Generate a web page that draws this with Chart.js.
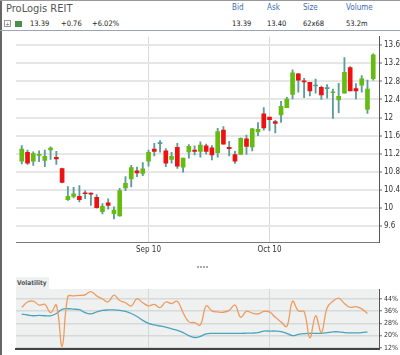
<!DOCTYPE html>
<html><head><meta charset="utf-8">
<script src="https://cdn.jsdelivr.net/npm/chart.js@4.4.1/dist/chart.umd.min.js"></script>
<style>
html,body{margin:0;padding:0;background:#fff;}
body{width:400px;height:355px;position:relative;overflow:hidden;font-family:"DejaVu Sans Condensed","DejaVu Sans",sans-serif;}
.abs{position:absolute;white-space:nowrap;line-height:1;}
#frameL{left:0;top:0;width:2px;height:355px;background:#666;}
#frameT{left:0;top:0;width:400px;height:1px;background:#999;}
#sep{left:0;top:30px;width:400px;height:1px;background:#9aa4b4;}
#title{left:6px;top:3px;font-size:11px;color:#555;}
.hl{font-size:8px;color:#3d6db5;top:4px;}
.hv{font-size:7.5px;color:#222;top:19.5px;}
#pbox{left:4px;top:20px;width:5px;height:5px;border:1px solid #999;font-size:6px;color:#666;text-align:center;line-height:5px;}
#gsq{left:15px;top:20.5px;width:7px;height:6px;background:#4a8f4a;}
.dot{width:2px;height:2px;background:#aaa;top:266px;}
#vlab{left:16px;top:277px;width:33px;height:12px;background:#eff1f1;font-size:6.5px;font-weight:bold;color:#555;line-height:12px;text-indent:1px;}
canvas{position:absolute;left:0;}
</style></head>
<body>
<div class="abs" id="frameL"></div>
<div class="abs" id="frameT"></div>
<div class="abs" id="sep"></div>
<div class="abs" id="title">ProLogis REIT</div>
<div class="abs hl" style="left:232px">Bid</div>
<div class="abs hl" style="left:267px">Ask</div>
<div class="abs hl" style="left:303px">Size</div>
<div class="abs hl" style="left:346px">Volume</div>
<div class="abs" id="pbox">+</div>
<div class="abs" id="gsq"></div>
<div class="abs hv" style="left:30px">13.39</div>
<div class="abs hv" style="left:61px">+0.76</div>
<div class="abs hv" style="left:92px">+6.02%</div>
<div class="abs hv" style="left:232px">13.39</div>
<div class="abs hv" style="left:267px">13.40</div>
<div class="abs hv" style="left:303px">62x68</div>
<div class="abs hv" style="left:346px">53.2m</div>
<div class="abs dot" style="left:197px"></div>
<div class="abs dot" style="left:200px"></div>
<div class="abs dot" style="left:203px"></div>
<div class="abs dot" style="left:206px"></div>
<div class="abs" id="vlab">Volatility</div>
<canvas id="c1" width="400" height="230" style="top:30px"></canvas>
<canvas id="c2" width="400" height="80" style="top:275px"></canvas>
<script>
// ---- data ----
const xTickPos = [22, 43];
const xTickLabels = ['Sep 10', 'Oct 10'];
const yTicks = [9.6, 10, 10.4, 10.8, 11.2, 11.6, 12, 12.4, 12.8, 13.2, 13.6];
const volTicks = [12, 20, 28, 36, 44];

const opens  = [11.03,11.23,11.03,11.16,11.05,11.28,11.12,10.87,10.18,10.25,
                10.25,10.33,10.32,10.23, 9.91,10.11, 9.87, 9.82,10.44,10.64,
                10.82,10.76,11.03,11.30,11.42,11.26,11.07,11.34,10.90,11.24,
                11.28,11.25,11.37,11.33,11.22,11.72,11.34,11.18,11.18,11.53,
                11.35,11.68,12.08,12.01,11.91,12.06,12.22,12.51,12.97,12.80,
                12.78,12.70,12.67,12.64,12.55,12.39,12.54,13.11,12.64,12.72,
                12.18,12.86];
const highs  = [11.38,11.28,11.24,11.26,11.28,11.35,11.25,10.88,10.47,10.45,
                10.49,10.38,10.33,10.29,10.09,10.20,10.02,10.43,10.69,10.94,
                10.90,11.00,11.28,11.43,11.49,11.31,11.23,11.43,11.10,11.40,
                11.37,11.46,11.41,11.38,11.76,11.80,11.47,11.25,11.55,11.61,
                11.76,11.89,12.22,12.01,11.94,12.36,12.45,13.06,12.98,12.87,
                12.78,12.85,12.70,12.73,12.63,12.76,13.33,13.13,12.75,12.93,
                12.83,13.41];
const lows   = [10.97,10.96,10.94,11.02,10.91,11.07,10.96,10.55,10.16,10.22,
                10.13,10.20,10.05, 9.99, 9.86, 9.97, 9.75, 9.81,10.38,10.46,
                10.69,10.71,10.92,11.15,11.23,10.91,10.99,10.87,10.79,11.10,
                11.17,11.12,11.19,11.06,11.12,11.41,11.15,10.98,11.18,11.18,
                11.26,11.60,11.72,11.71,11.66,11.89,12.22,12.41,12.56,12.44,
                12.48,12.54,12.40,12.43,11.98,12.11,12.54,12.59,12.41,12.56,
                12.09,12.83];
const closes = [11.30,10.99,11.20,11.17,11.14,11.32,11.08,10.56,10.25,10.31,
                10.18,10.31,10.30,10.00,10.03,10.05, 9.95,10.38,10.54,10.89,
                10.77,10.86,11.23,11.25,11.42,10.99,11.14,10.92,11.10,11.36,
                11.25,11.39,11.25,11.17,11.69,11.41,11.31,11.03,11.54,11.36,
                11.75,11.74,11.77,11.95,11.87,12.25,12.41,12.99,12.83,12.79,
                12.59,12.70,12.50,12.64,12.56,12.47,13.00,12.59,12.59,12.86,
                12.63,13.39];

const volOrange = [38.5,42,42.5,40,40.5,35,40,13,45.6,46,
                   46.3,46.7,48.8,46,44,42,46.5,43,41.5,39.3,
                   44.2,41.5,39.5,40.4,38.3,42,41,42.5,35,29,
                   28.5,27,39.5,36.2,35.5,35.3,36.5,40,32,36,
                   34.7,34.2,35.8,35.5,32,29,26,42.5,36.2,35.8,
                   18.5,33,22,38.3,42.5,44.5,41,38.5,39,37.5,
                   34.5,null];
const volTeal   = [34.1,33.5,33,33.2,33,33,34.5,37.2,37.6,37.3,
                   37,35,34.2,35.5,36.5,36.8,36.8,36.5,35.8,34.5,
                   32.5,30,28,27,26.3,25.5,24.5,23.5,22,20,
                   18.8,19.5,21.2,21.5,21.5,21.5,21.5,21.5,21.5,21.6,
                   21.7,22,23,23,23,22.7,21.5,20,20.8,21.3,
                   21.5,21.5,21.5,22,22.5,22.5,22,21.8,21.8,22,
                   22.5,null];

// ---- build ----
const FONT = '"DejaVu Sans Condensed","DejaVu Sans",sans-serif';
const UP = '#66bb11', DOWN = '#ee1111', FLAT = '#4f9a9a', WICK = '#5e9c9c';
const bodyData = opens.map((o, i) => ({x: i, y: [o, closes[i]]}));
const wickData = highs.map((h, i) => ({x: i, y: [lows[i], h]}));
const bodyColors = opens.map((o, i) => closes[i] > o ? UP : (closes[i] < o ? DOWN : FLAT));

const bgPlugin = {
  id: 'bgArea',
  beforeDraw(chart, args, opts) {
    if (!opts.color) return;
    const {ctx, chartArea: a} = chart;
    ctx.save(); ctx.fillStyle = opts.color;
    ctx.fillRect(a.left, a.top, a.right - a.left, a.bottom - a.top);
    ctx.restore();
  }
};

new Chart(document.getElementById('c1'), {
  type: 'bar',
  data: {
    datasets: [
      {data: bodyData, backgroundColor: bodyColors, barThickness: 4, grouped: false, minBarLength: 1, order: 0, borderWidth: 0},
      {data: wickData, backgroundColor: WICK, barThickness: 1.2, grouped: false, order: 1, borderWidth: 0}
    ]
  },
  options: {
    responsive: false, animation: false,
    layout: {padding: {left: 16, top: 1, right: 0, bottom: 0}},
    plugins: {legend: {display: false}, tooltip: {enabled: false}},
    scales: {
      x: {
        type: 'linear', min: -1, max: 62, offset: false,
        afterBuildTicks: s => { s.ticks = xTickPos.map(v => ({value: v})); },
        afterFit: s => { s.height = 18; },
        ticks: {callback: v => xTickLabels[xTickPos.indexOf(v)], font: {size: 8, family: FONT}, color: '#333', maxRotation: 0, padding: 3},
        grid: {color: '#d9d9d9', lineWidth: 1, drawTicks: false, offset: false},
        border: {color: '#777', width: 1}
      },
      y: {
        position: 'right', min: 9.24, max: 13.79,
        afterBuildTicks: s => { s.ticks = yTicks.map(v => ({value: v})); },
        afterFit: s => { s.width = 21; },
        ticks: {callback: v => String(v), font: {size: 8, family: FONT}, color: '#333', padding: 2},
        grid: {color: '#e6e6e6', lineWidth: 2, tickLength: 3, tickColor: '#666', tickWidth: 1},
        border: {color: '#555', width: 1}
      }
    }
  }
});

new Chart(document.getElementById('c2'), {
  type: 'line',
  data: {
    datasets: [
      {data: volOrange.map((v, i) => ({x: i, y: v})), borderColor: '#ef9b5e', borderWidth: 1.3, pointRadius: 0, tension: 0.4, fill: false},
      {data: volTeal.map((v, i) => ({x: i, y: v})), borderColor: '#4aa3bd', borderWidth: 1.3, pointRadius: 0, tension: 0.4, fill: false}
    ]
  },
  options: {
    responsive: false, animation: false,
    layout: {padding: {left: 16, top: 14, right: 0, bottom: 0}},
    plugins: {legend: {display: false}, tooltip: {enabled: false}, bgArea: {color: '#eff1f1'}},
    scales: {
      x: {
        type: 'linear', min: -1, max: 62, offset: false,
        afterBuildTicks: s => { s.ticks = xTickPos.map(v => ({value: v})); },
        afterFit: s => { s.height = 4; },
        ticks: {display: false},
        grid: {color: '#d6d8d8', lineWidth: 1, drawTicks: false},
        border: {color: '#444', width: 2}
      },
      y: {
        position: 'right', min: 11.4, max: 50.5,
        afterBuildTicks: s => { s.ticks = volTicks.map(v => ({value: v})); },
        afterFit: s => { s.width = 21; },
        ticks: {callback: v => v + '%', font: {size: 7, family: FONT}, color: '#333', padding: 2},
        grid: {color: '#d6d9d9', lineWidth: 1.5, tickLength: 3, tickColor: '#666', tickWidth: 1},
        border: {color: '#555', width: 1}
      }
    }
  },
  plugins: [bgPlugin]
});
</script>
</body></html>
